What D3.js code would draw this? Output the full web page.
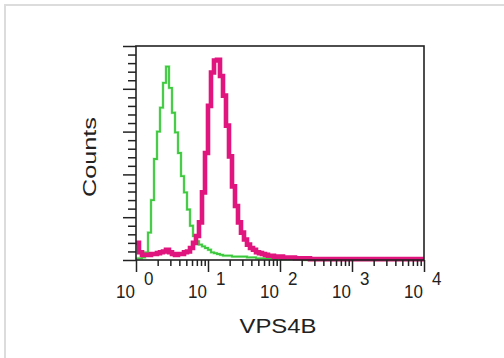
<!DOCTYPE html>
<html>
<head>
<meta charset="utf-8">
<script src="https://cdn.jsdelivr.net/npm/d3@7"></script>
<style>
  html, body { margin: 0; padding: 0; background: #fff; }
  svg { display: block; }
  text { font-family: "Liberation Sans", Arial, sans-serif; fill: #222; }
</style>
</head>
<body>
<div id="chart"></div>
<script>
// ---- data (96 log-spaced bins over 10^0 .. 10^4) ----
const decades = [0, 1, 2, 3, 4];
const minorMultipliers = [2, 3, 4, 5, 6, 7, 8, 9];
const countTicks = [0,10,20,30,40,50,60,70,80,90,100,110,120,130,140,150,160,170,180,190,200,210,220,230,240,250];
const majorCountTicks = [0, 50, 100, 150, 200, 250];
const binCount = 96;

const isotypeCounts = [
  2, 2, 3, 9, 32, 70, 118, 150, 178, 207,
  226, 201, 172, 149, 125, 98, 79, 59, 40, 28,
  22, 18, 16, 14, 12, 9, 8, 7, 6, 5,
  5, 5, 4, 4, 4, 4, 4, 3, 3, 3,
  2, 2, 2, 2, 2, 2, 1, 2, 1, 1,
  2, 1, 1, 1, 1, 1, 0, 1, 0, 0,
  0, 0, 0, 0, 0, 0, 0, 0, 0, 0,
  0, 0, 0, 0, 0, 0, 0, 0, 0, 0,
  0, 0, 0, 0, 0, 0, 0, 0, 0, 0,
  0, 0, 0, 0, 0, 0
];
const vps4bCounts = [
  20, 9, 6, 6, 6, 7, 7, 8, 9, 10,
  12, 9, 7, 6, 7, 7, 9, 10, 14, 20,
  28, 44, 79, 125, 180, 219, 233, 234, 215, 192,
  157, 121, 86, 63, 44, 32, 24, 18, 14, 12,
  9, 8, 7, 6, 5, 5, 4, 4, 4, 3,
  3, 3, 3, 2, 2, 2, 2, 2, 1, 1,
  1, 1, 1, 1, 1, 1, 1, 1, 1, 1,
  1, 1, 1, 1, 1, 1, 1, 1, 1, 1,
  1, 1, 1, 1, 1, 1, 1, 1, 1, 1,
  1, 1, 1, 1, 1, 1
];

// ---- layout ----
const W = 504, H = 358;
const plot = { left: 136, right: 424, top: 46, bottom: 260 };

const svg = d3.select("#chart").append("svg").attr("width", W).attr("height", H);

// outer light border (top & left visible)
svg.append("line").attr("x1", 4).attr("x2", W).attr("y1", 5).attr("y2", 5)
  .attr("stroke", "#dcdcdc").attr("stroke-width", 2);
svg.append("line").attr("x1", 5).attr("x2", 5).attr("y1", 4).attr("y2", H)
  .attr("stroke", "#dcdcdc").attr("stroke-width", 2);

const x = d3.scaleLog().domain([1, 1e4]).range([plot.left, plot.right]);
const y = d3.scaleLinear().domain([0, 250]).range([plot.bottom, plot.top]);

// bin edges (channel value at each bin boundary)
const edges = d3.range(binCount + 1).map(i => Math.pow(10, 4 * i / binCount));

function histPoints(counts) {
  const pts = counts.map((c, i) => [x(edges[i]), y(c)]);
  pts.push([x(edges[binCount]), y(counts[binCount - 1])]);
  return pts;
}
const stepLine = d3.line().curve(d3.curveStepAfter);

svg.append("clipPath").attr("id", "plotclip").append("rect")
  .attr("x", plot.left).attr("y", plot.top - 2)
  .attr("width", plot.right - plot.left).attr("height", plot.bottom - plot.top + 4);

const g = svg.append("g").attr("clip-path", "url(#plotclip)");

g.append("path").attr("d", stepLine(histPoints(isotypeCounts)))
  .attr("fill", "none").attr("stroke", "#9be89b").attr("stroke-width", 3)
  .attr("stroke-opacity", 0.6);
g.append("path").attr("d", stepLine(histPoints(isotypeCounts)))
  .attr("fill", "none").attr("stroke", "#3cc83c").attr("stroke-width", 1.8);
g.append("path").attr("d", stepLine(histPoints(vps4bCounts)))
  .attr("fill", "none").attr("stroke", "#e0157e").attr("stroke-width", 4.6);

// ---- axes ----
const majorVals = decades.map(d => Math.pow(10, d));
const minorVals = [];
decades.slice(0, -1).forEach(d => minorMultipliers.forEach(m => minorVals.push(m * Math.pow(10, d))));

function styleAxis(sel) {
  sel.select(".domain").remove();
  sel.selectAll(".tick line").attr("stroke", "#222").attr("stroke-width", 1.5);
  sel.selectAll(".tick text").remove();
}

svg.append("g").attr("transform", `translate(0,${plot.bottom})`)
  .call(d3.axisBottom(x).tickValues(minorVals).tickSize(6).tickFormat(""))
  .call(styleAxis);
svg.append("g").attr("transform", `translate(0,${plot.bottom})`)
  .call(d3.axisBottom(x).tickValues(majorVals).tickSize(12).tickFormat(""))
  .call(styleAxis);

const minorCounts = countTicks.filter(v => !majorCountTicks.includes(v));
svg.append("g").attr("transform", `translate(${plot.left},0)`)
  .call(d3.axisLeft(y).tickValues(minorCounts).tickSize(8).tickFormat(""))
  .call(styleAxis);
svg.append("g").attr("transform", `translate(${plot.left},0)`)
  .call(d3.axisLeft(y).tickValues(majorCountTicks).tickSize(13).tickFormat(""))
  .call(styleAxis);

// frame
svg.append("rect")
  .attr("x", plot.left).attr("y", plot.top)
  .attr("width", plot.right - plot.left).attr("height", plot.bottom - plot.top)
  .attr("fill", "none").attr("stroke", "#222").attr("stroke-width", 1.6);

// tick labels: "10" + superscript exponent
const lab = svg.append("g");
decades.forEach(d => {
  const px = x(Math.pow(10, d));
  lab.append("text").attr("x", px - 1).attr("y", 298)
    .attr("text-anchor", "end").attr("font-size", 17)
    .attr("transform", `translate(0,298) scale(1,1.12) translate(0,-298)`)
    .text("10");
  lab.append("text").attr("x", px + 8).attr("y", 285)
    .attr("text-anchor", "start").attr("font-size", 17)
    .attr("transform", `translate(0,285) scale(1,1.12) translate(0,-285)`)
    .text(String(d));
});

// axis titles
svg.append("text")
  .attr("transform", "translate(96,157) rotate(-90)")
  .attr("text-anchor", "middle").attr("font-size", 19)
  .attr("textLength", 80).attr("lengthAdjust", "spacingAndGlyphs")
  .attr("fill", "#333").text("Counts");
svg.append("text")
  .attr("x", 278).attr("y", 333)
  .attr("text-anchor", "middle").attr("font-size", 21)
  .attr("textLength", 77).attr("lengthAdjust", "spacingAndGlyphs")
  .attr("fill", "#333").text("VPS4B");
</script>
</body>
</html>
